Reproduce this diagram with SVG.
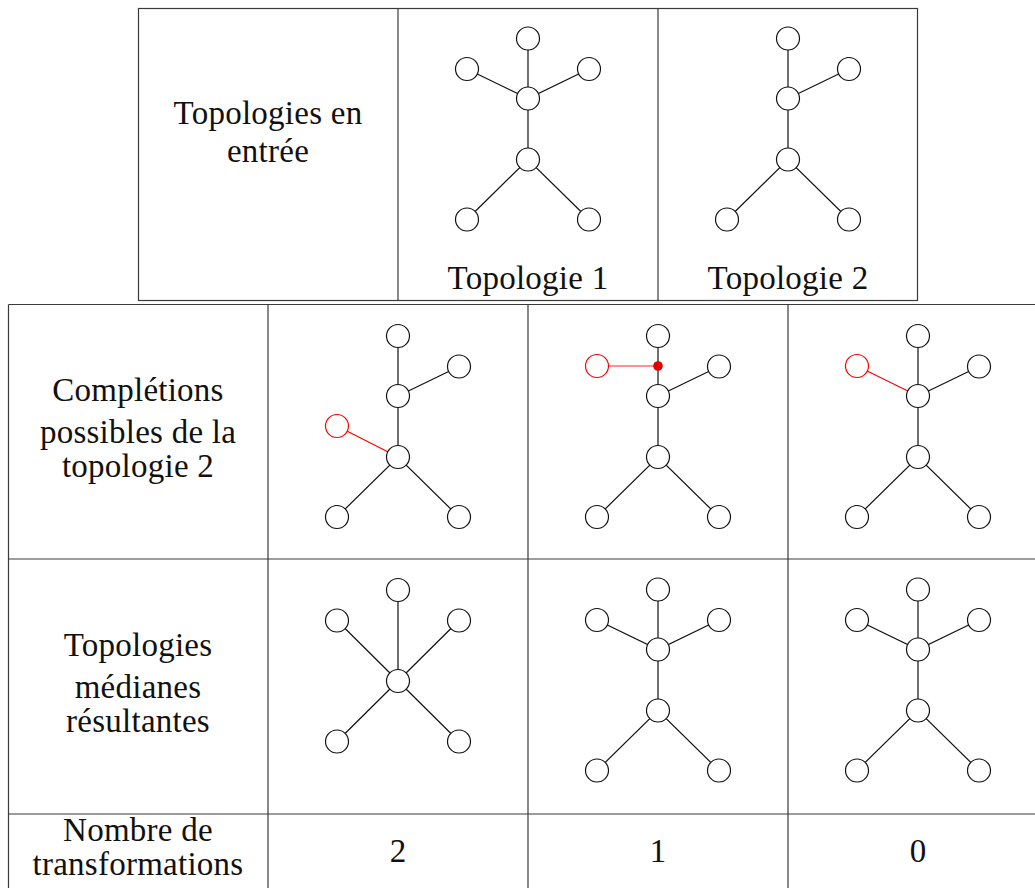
<svg xmlns="http://www.w3.org/2000/svg" width="1035" height="888" viewBox="0 0 1035 888">
<style>
.grid{fill:none;stroke:#3a3a3a;stroke-width:1.2}
.e{stroke:#111;stroke-width:1.2;fill:none}
.er{stroke:#f00;stroke-width:1.2;fill:none}
.ep{stroke:#ff6b6b;stroke-width:1.6;fill:none}
.n circle{fill:#fff;stroke:#111;stroke-width:1.2}
.nr circle{fill:#fff;stroke:#f00;stroke-width:1.2}
.dot{fill:#e00000}
text{font-family:"Liberation Serif","Times New Roman",serif;font-size:33px;letter-spacing:0.25px;fill:#111;text-anchor:middle}
</style>
<rect width="1035" height="888" fill="#fff"/>
<g id="table">
<rect class="grid" x="138.5" y="8.5" width="779" height="292"/>
<line class="grid" x1="398" y1="8.5" x2="398" y2="300.5"/>
<line class="grid" x1="658" y1="8.5" x2="658" y2="300.5"/>
<line class="grid" x1="8.5" y1="304.5" x2="1035" y2="304.5"/>
<line class="grid" x1="8.5" y1="559" x2="1035" y2="559"/>
<line class="grid" x1="8.5" y1="814" x2="1035" y2="814"/>
<line class="grid" x1="8.5" y1="304.5" x2="8.5" y2="888"/>
<line class="grid" x1="268" y1="304.5" x2="268" y2="888"/>
<line class="grid" x1="528" y1="304.5" x2="528" y2="888"/>
<line class="grid" x1="788" y1="304.5" x2="788" y2="888"/>
</g>
<g id="labels">
<text x="268" y="124">Topologies en</text>
<text x="268" y="162">entrée</text>
<text x="528" y="289">Topologie 1</text>
<text x="788" y="289">Topologie 2</text>
<text x="138" y="401">Complétions</text>
<text x="138" y="443">possibles de la</text>
<text x="138" y="477">topologie 2</text>
<text x="138" y="656">Topologies</text>
<text x="138" y="698">médianes</text>
<text x="138" y="732">résultantes</text>
<text x="138" y="841">Nombre de</text>
<text x="138" y="875">transformations</text>
<text x="398" y="862">2</text>
<text x="658" y="862">1</text>
<text x="918" y="862">0</text>
</g>
<g id="connectors">
<!-- Topologie 1 -->
<path class="e" d="M528,38.5V159.5 M467,69L528,98.5L589,69 M467,219.5L528,159.5L589,219.5"/>
<!-- Topologie 2 -->
<path class="e" d="M788,38.5V159.5 M788,98.5L849,69 M727,219.5L788,159.5L849,219.5"/>
<!-- R2C1 -->
<path class="e" d="M398,336V457 M398,396L459,366.5 M337,517L398,457L459,517"/>
<path class="er" d="M337,426L398,457"/>
<!-- R2C2 -->
<path class="e" d="M658,336V457 M658,396L719,366.5 M597,517L658,457L719,517"/>
<path class="ep" d="M597,366H658"/>
<!-- R2C3 -->
<path class="e" d="M918,336V457 M918,396L979,366.5 M857,517L918,457L979,517"/>
<path class="er" d="M857,366L918,396"/>
<!-- R3C1 star -->
<path class="e" d="M398,590V681 M337,620.5L459,741.5 M459,620.5L337,741.5"/>
<!-- R3C2 -->
<path class="e" d="M658,589.5V710.5 M597,620L658,649.5L719,620 M597,770.5L658,710.5L719,770.5"/>
<!-- R3C3 -->
<path class="e" d="M918,589.5V710.5 M857,620L918,649.5L979,620 M857,770.5L918,710.5L979,770.5"/>
</g>
<g id="nodes">
<g id="t1" class="n">
<circle cx="528" cy="38.5" r="11.5"/><circle cx="467" cy="69" r="11.5"/><circle cx="589" cy="69" r="11.5"/>
<circle cx="528" cy="98.5" r="11.5"/><circle cx="528" cy="159.5" r="11.5"/><circle cx="467" cy="219.5" r="11.5"/><circle cx="589" cy="219.5" r="11.5"/>
</g>
<g id="t2" class="n">
<circle cx="788" cy="38.5" r="11.5"/><circle cx="849" cy="69" r="11.5"/>
<circle cx="788" cy="98.5" r="11.5"/><circle cx="788" cy="159.5" r="11.5"/><circle cx="727" cy="219.5" r="11.5"/><circle cx="849" cy="219.5" r="11.5"/>
</g>
<g id="c1" class="n">
<circle cx="398" cy="336" r="11.5"/><circle cx="459" cy="366.5" r="11.5"/>
<circle cx="398" cy="396" r="11.5"/><circle cx="398" cy="457" r="11.5"/><circle cx="337" cy="517" r="11.5"/><circle cx="459" cy="517" r="11.5"/>
</g>
<g id="c1-new" class="nr"><circle cx="337" cy="426" r="11.5"/></g>
<g id="c2" class="n">
<circle cx="658" cy="336" r="11.5"/><circle cx="719" cy="366.5" r="11.5"/>
<circle cx="658" cy="396" r="11.5"/><circle cx="658" cy="457" r="11.5"/><circle cx="597" cy="517" r="11.5"/><circle cx="719" cy="517" r="11.5"/>
</g>
<g id="c2-new" class="nr"><circle cx="597" cy="366" r="11.5"/></g>
<g id="c2-dot"><circle class="dot" cx="658" cy="366" r="4.8"/></g>
<g id="c3" class="n">
<circle cx="918" cy="336" r="11.5"/><circle cx="979" cy="366.5" r="11.5"/>
<circle cx="918" cy="396" r="11.5"/><circle cx="918" cy="457" r="11.5"/><circle cx="857" cy="517" r="11.5"/><circle cx="979" cy="517" r="11.5"/>
</g>
<g id="c3-new" class="nr"><circle cx="857" cy="366" r="11.5"/></g>
<g id="m1" class="n">
<circle cx="398" cy="590" r="11.5"/><circle cx="337" cy="620.5" r="11.5"/><circle cx="459" cy="620.5" r="11.5"/>
<circle cx="398" cy="681" r="11.5"/><circle cx="337" cy="741.5" r="11.5"/><circle cx="459" cy="741.5" r="11.5"/>
</g>
<g id="m2" class="n">
<circle cx="658" cy="589.5" r="11.5"/><circle cx="597" cy="620" r="11.5"/><circle cx="719" cy="620" r="11.5"/>
<circle cx="658" cy="649.5" r="11.5"/><circle cx="658" cy="710.5" r="11.5"/><circle cx="597" cy="770.5" r="11.5"/><circle cx="719" cy="770.5" r="11.5"/>
</g>
<g id="m3" class="n">
<circle cx="918" cy="589.5" r="11.5"/><circle cx="857" cy="620" r="11.5"/><circle cx="979" cy="620" r="11.5"/>
<circle cx="918" cy="649.5" r="11.5"/><circle cx="918" cy="710.5" r="11.5"/><circle cx="857" cy="770.5" r="11.5"/><circle cx="979" cy="770.5" r="11.5"/>
</g>
</g>
</svg>
